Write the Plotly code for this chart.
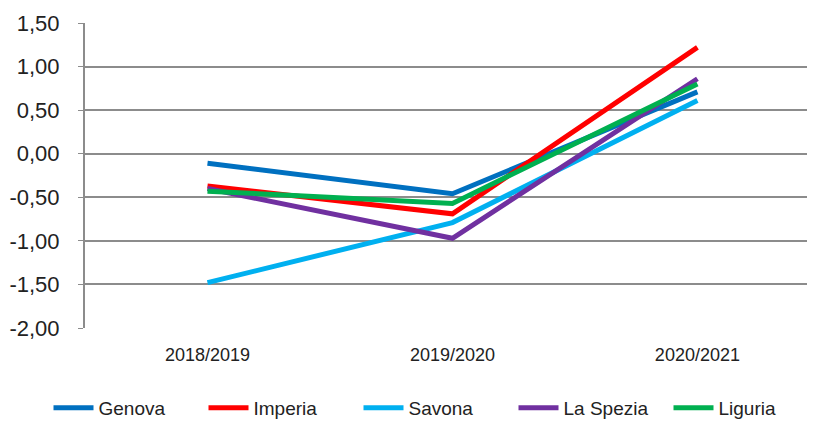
import plotly.graph_objects as go

# school years on the x axis
years = ["2018/2019", "2019/2020", "2020/2021"]

# values
genova = [-0.11, -0.46, 0.71]
imperia = [-0.37, -0.69, 1.22]
savona = [-1.48, -0.79, 0.61]
la_spezia = [-0.40, -0.97, 0.86]
liguria = [-0.43, -0.57, 0.80]

# y tick values and their labels (comma decimals, plain hyphen)
y_ticks = [-2.0, -1.5, -1.0, -0.5, 0.0, 0.5, 1.0, 1.5]
y_labels = ["-2,00", "-1,50", "-1,00", "-0,50", "0,00", "0,50", "1,00", "1,50"]

series = [
    ("Genova", genova, "#0070C0"),
    ("Imperia", imperia, "#FF0000"),
    ("Savona", savona, "#00B0F0"),
    ("La Spezia", la_spezia, "#7030A0"),
    ("Liguria", liguria, "#00B050"),
]

fig = go.Figure()
for name, vals, color in series:
    fig.add_trace(go.Scatter(
        x=years, y=vals, name=name, mode="lines",
        line=dict(color=color, width=5),
    ))

# the page body adds 8px around the figure, so the figure is 807x413
# legend sits left of the plot area (x<0) so it may use the full width
fig.update_layout(
    width=807, height=413,
    margin=dict(l=77, r=0, t=15, b=93, autoexpand=False),
    plot_bgcolor="white", paper_bgcolor="white",
    font=dict(family="Liberation Sans", size=18, color="#222"),
    showlegend=True,
    legend=dict(
        orientation="h", x=-0.05, xanchor="left",
        y=-0.2, yanchor="top",
        font=dict(family="Liberation Sans Narrow, Liberation Sans", size=19),
        itemwidth=40, entrywidth=100, tracegroupgap=0,
    ),
)
fig.update_xaxes(
    range=[-0.5, 2.48], automargin=False,
    showgrid=False, showline=False, zeroline=False,
    ticks="", tickfont=dict(size=18), ticklabelstandoff=14,
)
fig.update_yaxes(
    range=[-2, 1.5], tickvals=y_ticks, ticktext=y_labels, automargin=False,
    showgrid=True, gridcolor="#8c8c8c", gridwidth=1.5,
    zeroline=False, showline=True, linecolor="#8c8c8c", linewidth=2,
    ticks="outside", ticklen=5, tickcolor="#8c8c8c",
    tickfont=dict(size=22), ticklabelstandoff=14,
)

fig.write_html("out.html")
